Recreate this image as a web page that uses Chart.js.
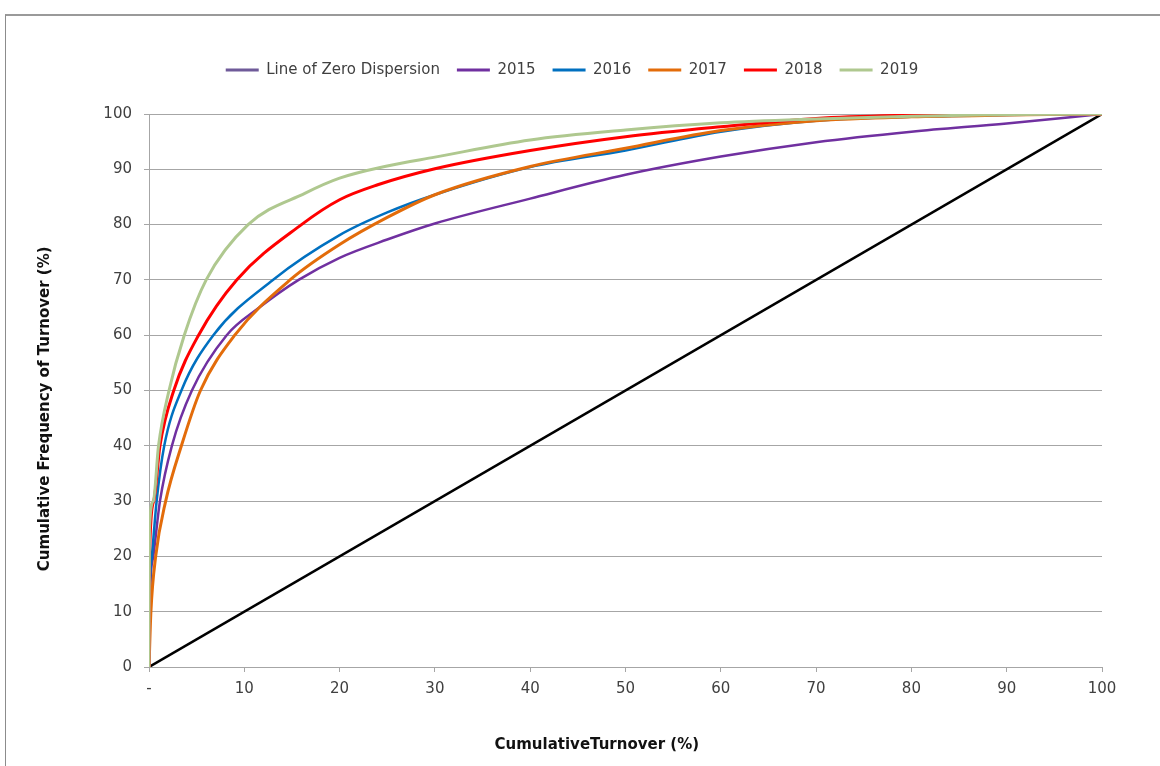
<!DOCTYPE html>
<html>
<head>
<meta charset="utf-8">
<script src="https://cdn.jsdelivr.net/npm/chart.js@4.4.1/dist/chart.umd.min.js"></script>
<style>
  html, body { margin: 0; padding: 0; background: #fff; overflow: hidden; }
  .frame {
    position: absolute; left: 5px; top: 14px; width: 1400px; height: 1000px;
    border-left: 1px solid #8c8c8c; border-top: 2px solid #9a9a9a;
  }
  #chart { position: absolute; left: 0; top: 0; }
</style>
</head>
<body>
<div class="frame"></div>
<canvas id="chart" width="1160" height="766"></canvas>
<script>
// cumulative turnover (%) -> cumulative frequency of turnover (%)
const zeroX = [0, 100];
const zeroY = [0, 100];

const x2015 = [0, 0.15, 0.45, 1.15, 2.4, 4.5, 8.15, 11.5, 15.7, 20, 25, 30, 40, 50, 60, 70, 80, 90, 100];
const y2015 = [0, 15, 20, 30, 40, 50, 60, 64.9, 70, 74.0, 77.3, 80.2, 84.7, 89.0, 92.3, 94.9, 96.8, 98.3, 100];

const x2016 = [0, 0.1, 0.3, 0.8, 1.6, 3.4, 6.75, 13, 20, 25, 30, 40, 50, 60, 70, 80, 90, 100];
const y2016 = [0, 15, 20, 30, 40, 50, 60, 70, 78.1, 82.2, 85.4, 90.4, 93.4, 96.8, 98.8, 99.5, 99.8, 100];

const x2017 = [0, 0.2, 0.7, 1.75, 3.4, 5.4, 9.0, 14.8, 20, 25, 30, 40, 50, 60, 70, 80, 90, 100];
const y2017 = [0, 10, 20, 30, 40, 50, 60, 70, 76.4, 81.3, 85.4, 90.5, 93.8, 97.0, 98.8, 99.5, 99.8, 100];

const x2018 = [0, 0.05, 0.5, 1.15, 2.6, 5.2, 9.2, 16, 20, 24, 30, 40, 50, 60, 70, 80, 90, 100];
const y2018 = [0, 20, 30, 40, 50, 60, 70, 80, 84.5, 87.2, 90.1, 93.4, 95.9, 97.7, 99.2, 99.8, 100, 100];

const x2019 = [0, 0.05, 0.45, 1.0, 2.1, 3.7, 6.0, 10.4, 16.4, 20, 25, 30, 40, 50, 60, 70, 80, 90, 100];
const y2019 = [0, 25, 30, 40, 50, 60, 70, 80, 85.7, 88.4, 90.6, 92.2, 95.3, 97.1, 98.4, 99.1, 99.6, 99.9, 100];

const xTicks = [0, 10, 20, 30, 40, 50, 60, 70, 80, 90, 100];

const pts = (xs, ys) => xs.map((x, i) => ({ x, y: ys[i] }));

Chart.defaults.font.family = "'DejaVu Sans', sans-serif";
Chart.defaults.color = '#404040';

const gridColor = '#a6a6a6';

const series = (label, xs, ys, color, width, order) => ({
  label,
  data: pts(xs, ys),
  borderColor: color,
  backgroundColor: color,
  borderWidth: width,
  pointRadius: 0,
  cubicInterpolationMode: 'monotone',
  fill: false,
  order
});

// legend sits higher than the plot and a bit right of centre
const legendPlace = {
  id: 'legendPlace',
  beforeLayout(chart) {
    const lg = chart.legend;
    if (lg && !lg._gapped) {
      const fit = lg.fit.bind(lg);
      lg.fit = function () { fit(); this.height += 26.5; };
      lg._gapped = true;
    }
  },
  afterLayout(chart) {
    if (chart.legend) chart.legend.left += 42;
  }
};

new Chart(document.getElementById('chart'), {
  type: 'line',
  data: {
    datasets: [
      series('Line of Zero Dispersion', zeroX, zeroY, '#000000', 2.5, 6),
      series('2015', x2015, y2015, '#7030a0', 2.5, 5),
      series('2016', x2016, y2016, '#0070c0', 2.5, 4),
      series('2017', x2017, y2017, '#e36c0a', 3, 3),
      series('2018', x2018, y2018, '#ff0000', 3, 2),
      series('2019', x2019, y2019, '#afc88f', 3, 1)
    ]
  },
  options: {
    responsive: false,
    animation: false,
    devicePixelRatio: 1,
    layout: { padding: { left: 0, top: 45.5, right: 58, bottom: 0 } },
    plugins: {
      tooltip: { enabled: false },
      legend: {
        display: true,
        position: 'top',
        labels: {
          usePointStyle: true,
          pointStyle: 'line',
          pointStyleWidth: 33,
          padding: 17,
          color: '#404040',
          font: { size: 15 },
          sort: (a, b) => a.datasetIndex - b.datasetIndex,
          generateLabels(chart) {
            const items = Chart.defaults.plugins.legend.labels.generateLabels(chart);
            items.forEach(it => {
              it.lineWidth = 3;
              if (it.datasetIndex === 0) it.strokeStyle = '#6f5a99';
            });
            return items;
          }
        }
      }
    },
    scales: {
      x: {
        type: 'linear',
        min: 0,
        max: 100,
        afterFit(scale) { scale.height = 99; },
        afterBuildTicks(scale) { scale.ticks = xTicks.map(v => ({ value: v })); },
        grid: { drawOnChartArea: false, drawTicks: true, tickLength: 5, color: gridColor },
        border: { display: true, color: gridColor },
        ticks: {
          padding: 8,
          maxRotation: 0,
          font: { size: 15 },
          color: '#404040',
          callback: v => (v === 0 ? '-' : v)
        },
        title: {
          display: true,
          // trailing spaces pull the centred title left, as in the original
          text: 'CumulativeTurnover (%)\u00a0\u00a0\u00a0\u00a0\u00a0\u00a0\u00a0\u00a0\u00a0\u00a0\u00a0',
          color: '#111',
          font: { size: 15, weight: 'bold' },
          padding: { top: 0, bottom: 12 }
        }
      },
      y: {
        min: 0,
        max: 100,
        afterFit(scale) { scale.width = 149; },
        grid: { drawTicks: true, tickLength: 5, color: gridColor },
        border: { display: true, color: gridColor },
        ticks: { stepSize: 10, padding: 12, font: { size: 15 }, color: '#404040' },
        title: {
          display: true,
          text: 'Cumulative Frequency of Turnover (%)\u00a0\u00a0\u00a0\u00a0\u00a0\u00a0\u00a0',
          color: '#111',
          font: { size: 15, weight: 'bold' },
          padding: { top: 36, bottom: 0 }
        }
      }
    }
  },
  plugins: [legendPlace]
});
</script>
</body>
</html>
